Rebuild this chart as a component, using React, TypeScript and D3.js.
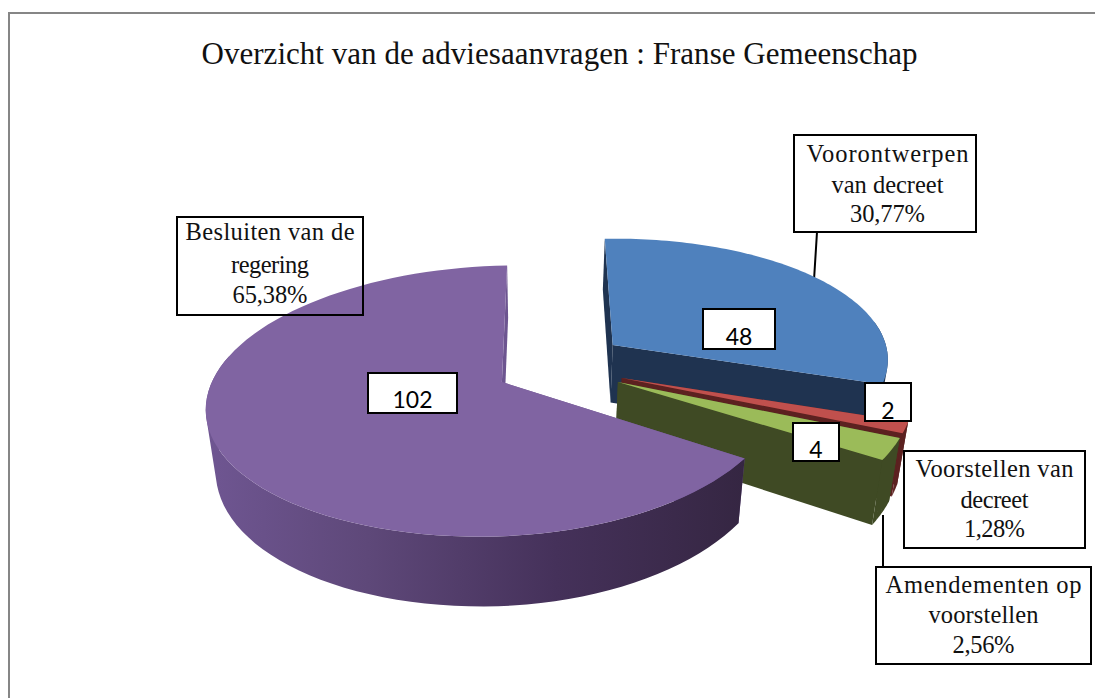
import React from "react";
import * as d3 from "d3";

const categories = ["Voorontwerpen van decreet", "Voorstellen van decreet", "Amendementen op voorstellen", "Besluiten van de regering"];
const values = [48, 2, 4, 102];
const percentLabels = ["30,77%", "1,28%", "2,56%", "65,38%"];
const title = "Overzicht van de adviesaanvragen : Franse Gemeenschap";

const topColors = ["#4f81bd", "#c0504d", "#9bbb59", "#8064a2"];
const wallColors = ["#1f3350", "#5c2120", "#3f4a24", "url(#purpleWall)"];
const faceColors = ["#1f3350", "#5c2120", "#3f4a24", "#6d5590"];

// projection of the pie plane
const VX = 635, AX = 290, DEPTH = 0.143, HORIZON = -567, SY = 949, WALL = 60;
const BOTTOM_VX = 540, BOTTOM_SHRINK = 0.03;
const ROT = (-2.5 * Math.PI) / 180;
// exploded apex of every slice, in plane units
const explodeX = [-0.08, -0.046, -0.059, -0.459];
const explodeZ = [-0.284, -0.03, 0, 0];
const radiiX = [0.98, 1, 1, 1];
const radiiZ = [0.96, 1, 1, 0.98];
const rightSquash = [1, 1, 1, 0.955];

const project = (X: number, Z: number, H: number): [number, number] => {
  const w = 1 - DEPTH * Z;
  const x = VX + (AX * X) / w;
  return [BOTTOM_VX + (x - BOTTOM_VX) * (1 - (BOTTOM_SHRINK * H) / WALL), HORIZON + (SY + H) / w];
};

const line = d3.line<[number, number]>();
const pieGen = d3.pie<number>().sort(null).startAngle(ROT).endAngle(ROT + 2 * Math.PI);
const arcs = pieGen(values);

type Box = { x0: number; x1: number; y0: number; y1: number; lines: string[]; base: number[]; widths: number[]; shift: number };
const catBoxes: Box[] = [
  { x0: 794, x1: 976, y0: 135, y1: 232, lines: ["Voorontwerpen", "van decreet", percentLabels[0]], base: [162, 193, 222], widths: [162, 112, 75], shift: 2.5 },
  { x0: 904, x1: 1085, y0: 451, y1: 548, lines: ["Voorstellen van", "decreet", percentLabels[1]], base: [477, 508, 537], widths: [158, 68, 61], shift: 0 },
  { x0: 876, x1: 1091, y0: 567, y1: 664, lines: ["Amendementen op", "voorstellen", percentLabels[2]], base: [593, 623, 653], widths: [196, 110, 62], shift: 0 },
  { x0: 177, x1: 363, y0: 217, y1: 315, lines: ["Besluiten van de", "regering", percentLabels[3]], base: [240, 273, 303], widths: [169, 78, 75], shift: 0 },
];
const valBoxes = [
  { x0: 703, x1: 775, y0: 309, y1: 349, base: 345 },
  { x0: 865, x1: 911, y0: 383, y1: 421, base: 419 },
  { x0: 793, x1: 839, y0: 423, y1: 461, base: 458 },
  { x0: 368, x1: 457, y0: 373, y1: 413, base: 408 },
];
const leaders: [number, number, number, number][] = [
  [817, 232, 814, 280],
  [883, 515, 883, 567],
];

const serif = "'Liberation Serif', 'DejaVu Serif', serif";
const sans = "Lato, 'Open Sans', sans-serif";

function Slice({ i }: { i: number }) {
  const a = arcs[i];
  const cx = explodeX[i];
  const cz = explodeZ[i];
  const angles = d3.range(0, 91).map((k) => a.startAngle + ((a.endAngle - a.startAngle) * k) / 90);
  const pt = (t: number, H: number) => {
    const sx = Math.sin(t);
    return project(cx + radiiX[i] * sx * (sx > 0 ? rightSquash[i] : 1), cz - radiiZ[i] * Math.cos(t), H);
  };
  const apexT = project(cx, cz, 0);
  const apexB = project(cx, cz, WALL);
  const topArc = angles.map((t) => pt(t, 0));
  const botArc = angles.map((t) => pt(t, WALL));
  const topPath = line([apexT, ...topArc]) + "Z";
  // the outer wall is swept segment by segment, only where it can face the viewer;
  // all segments get the same winding so that their union stays filled
  const wallPath = d3
    .range(0, 90)
    .filter((k) => -Math.cos(angles[k]) > -0.2)
    .map((k) => {
      const quad: [number, number][] = [topArc[k], topArc[k + 1], botArc[k + 1], botArc[k]];
      return line(d3.polygonArea(quad) < 0 ? quad.slice().reverse() : quad) + "Z";
    })
    .join("");
  const startFace = line([apexT, topArc[0], botArc[0], apexB]) + "Z";
  const endFace = line([apexT, topArc[90], botArc[90], apexB]) + "Z";
  // a cut face turns to the viewer only if its outward normal has a positive Z part
  const startFront = -Math.sin(a.startAngle) > 0;
  const endFront = Math.sin(a.endAngle) > 0;
  return (
    <g>
      {!startFront && <path d={startFace} fill={faceColors[i]} />}
      {!endFront && <path d={endFace} fill={faceColors[i]} />}
      <path d={wallPath} fill={wallColors[i]} />
      {startFront && <path d={startFace} fill={faceColors[i]} />}
      {endFront && <path d={endFace} fill={faceColors[i]} />}
      <path d={topPath} fill={topColors[i]} />
    </g>
  );
}

export default function App() {
  return (
    <svg
      width={1095}
      height={698}
      viewBox="0 0 1095 698"
      style={{ position: "absolute", left: 0, top: 0, display: "block", background: "#fff" }}
    >
      <defs>
        <linearGradient id="purpleWall" gradientUnits="userSpaceOnUse" x1={206} x2={745} y1={0} y2={0}>
          <stop offset="0" stopColor="#6f5692" />
          <stop offset="0.3" stopColor="#5e4879" />
          <stop offset="0.65" stopColor="#45315a" />
          <stop offset="1" stopColor="#352642" />
        </linearGradient>
      </defs>
      <rect x={9} y={13} width={1100} height={700} fill="#fff" stroke="#868686" strokeWidth={2} />
      <text
        x={559.5}
        y={64}
        textAnchor="middle"
        fontFamily={serif}
        fontSize={31}
        textLength={716}
        lengthAdjust="spacing"
        fill="#111"
      >
        {title}
      </text>

      {catBoxes.map((b, i) => (
        <rect key={categories[i]} x={b.x0} y={b.y0} width={b.x1 - b.x0} height={b.y1 - b.y0} fill="#fff" />
      ))}
      {leaders.map((l, i) => (
        <line key={i} x1={l[0]} y1={l[1]} x2={l[2]} y2={l[3]} stroke="#000" strokeWidth={2} />
      ))}

      {arcs.map((_, i) => (
        <Slice key={i} i={i} />
      ))}

      {catBoxes.map((b, i) => (
        <g key={categories[i]}>
          <rect x={b.x0} y={b.y0} width={b.x1 - b.x0} height={b.y1 - b.y0} fill="none" stroke="#000" strokeWidth={2} />
          {b.lines.map((t, j) => (
            <text
              key={j}
              x={(b.x0 + b.x1) / 2 + b.shift}
              y={b.base[j]}
              textAnchor="middle"
              fontFamily={serif}
              fontSize={24.5}
              textLength={b.widths[j]}
              lengthAdjust="spacing"
              fill="#111"
            >
              {t}
            </text>
          ))}
        </g>
      ))}
      {valBoxes.map((b, i) => (
        <g key={i}>
          <rect x={b.x0} y={b.y0} width={b.x1 - b.x0} height={b.y1 - b.y0} fill="#fff" stroke="#000" strokeWidth={2} />
          <text x={(b.x0 + b.x1) / 2} y={b.base} textAnchor="middle" fontFamily={sans} fontSize={23} fill="#000">
            {values[i]}
          </text>
        </g>
      ))}
    </svg>
  );
}
